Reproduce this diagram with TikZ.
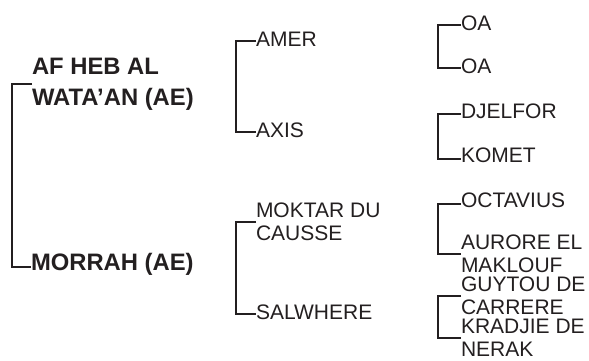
\documentclass[tikz,border=0pt]{standalone}
\usepackage{fontspec}
\setmainfont{Liberation Sans}
\definecolor{ink}{HTML}{231F20}
\begin{document}
\begin{tikzpicture}[x=1pt,y=-1pt,
  lbl/.style={inner sep=0pt,outer sep=0pt,text=ink,align=left,font=\fontsize{21}{23.3}\selectfont},
  bld/.style={inner sep=0pt,outer sep=0pt,text=ink,align=left,font=\bfseries\fontsize{23.8}{31}\selectfont},
  br/.style={draw=ink,line width=2.6pt,line join=miter}]
\useasboundingbox (0,0) rectangle (589,360);
% left column
\node[bld,anchor=west] (af) at (32,84) {AF HEB AL\\WATA’AN (AE)};
\node[bld,anchor=base west] (morrah) at (31,270) {MORRAH (AE)};
\draw[br] (af.west) -- ++(-20,0) |- ([yshift=3pt]morrah.base west);
% middle column
\node[lbl,anchor=base west] (amer) at (256,46) {AMER};
\node[lbl,anchor=base west] (axis) at (256,137) {AXIS};
\node[lbl,anchor=west] (moktar) at (256,222) {MOKTAR DU\\CAUSSE};
\node[lbl,anchor=base west] (salwhere) at (256,319) {SALWHERE};
\draw[br] ([yshift=5pt]amer.base west) -- ++(-20,0) |- ([yshift=5pt]axis.base west);
\draw[br] (moktar.west) -- ++(-20,0) |- ([yshift=5pt]salwhere.base west);
% right column
\node[lbl,anchor=base west] (oa1) at (461,30) {OA};
\node[lbl,anchor=base west] (oa2) at (461,73) {OA};
\node[lbl,anchor=base west] (djelfor) at (461,118) {DJELFOR};
\node[lbl,anchor=base west] (komet) at (461,162) {KOMET};
\node[lbl,anchor=base west] (octavius) at (461,207) {OCTAVIUS};
\node[lbl,anchor=west] (aurore) at (461,254) {AURORE EL\\MAKLOUF};
\node[lbl,anchor=west] (guytou) at (461,296) {GUYTOU DE\\CARRERE};
\node[lbl,anchor=west] (kradjie) at (461,338) {KRADJIE DE\\NERAK};
\draw[br] ([yshift=5pt]oa1.base west) -- ++(-23,0) |- ([yshift=5pt]oa2.base west);
\draw[br] ([yshift=4pt]djelfor.base west) -- ++(-23,0) |- ([yshift=3pt]komet.base west);
\draw[br] ([yshift=3pt]octavius.base west) -- ++(-23,0) |- (aurore.west);
\draw[br] (guytou.west) -- ++(-23,0) |- (kradjie.west);
\end{tikzpicture}
\end{document}
